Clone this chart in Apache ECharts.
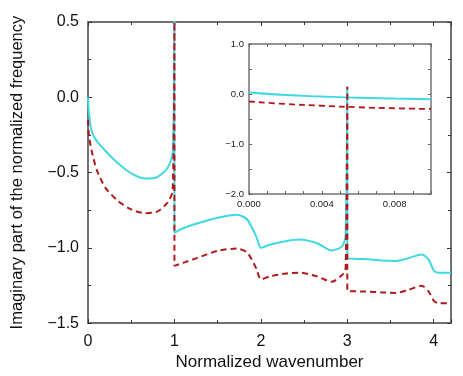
<!DOCTYPE html>
<html>
<head>
<meta charset="utf-8">
<script src="https://cdn.jsdelivr.net/npm/echarts@6/dist/echarts.min.js"></script>
<style>
html, body { margin: 0; padding: 0; background: #fff; }
#chart { width: 463px; height: 376px; }
</style>
</head>
<body>
<div id="chart"></div>
<script>
// 主图数据: 横坐标 (两条曲线共用), 含 x=1 和 x=3 处的竖直尖峰
var waveX = [0, 0.01, 0.04, 0.1, 0.2, 0.35, 0.5, 0.66, 0.8, 0.92, 0.98, 1.0, 1.0,
    1.1, 1.25, 1.5, 1.72, 1.84, 1.95, 2.0, 2.1, 2.3, 2.45, 2.65, 2.82, 2.94, 2.98, 3.0, 3.0,
    3.2, 3.4, 3.55, 3.7, 3.86, 3.94, 4.0, 4.05, 4.2];
// 青色实线
var cyanY = [0.0, -0.1, -0.22, -0.29, -0.355, -0.44, -0.505, -0.54, -0.53, -0.47, -0.37, 0.6, -0.9,
    -0.87, -0.84, -0.8, -0.78, -0.81, -0.93, -1.0, -0.98, -0.955, -0.945, -0.97, -1.018, -0.99, -0.92, 0.07, -1.07,
    -1.075, -1.085, -1.088, -1.07, -1.044, -1.077, -1.15, -1.165, -1.165];
// 红色虚线
var redY = [-0.15, -0.25, -0.35, -0.48, -0.6, -0.69, -0.745, -0.77, -0.76, -0.7, -0.62, 0.6, -1.12,
    -1.1, -1.07, -1.02, -1.005, -1.03, -1.14, -1.21, -1.19, -1.17, -1.165, -1.19, -1.226, -1.18, -1.15, 0.07, -1.285,
    -1.29, -1.296, -1.3, -1.28, -1.252, -1.29, -1.35, -1.368, -1.368];

// 小图数据
var insetX = [0, 0.002, 0.004, 0.006, 0.008, 0.01];
var insetCyanY = [0.03, -0.02, -0.05, -0.075, -0.09, -0.105];
var insetRedY = [-0.15, -0.2, -0.235, -0.265, -0.285, -0.3];

// 刻度
var mainXTicks = [0, 1, 2, 3, 4];
var mainYTicks = [-1.5, -1.0, -0.5, 0.0, 0.5];
var insetXLabels = [0, 0.004, 0.008];
var insetYLabels = [-2, -1, 0, 1];

function pairs(xs, ys) {
    var out = [];
    for (var i = 0; i < xs.length; i++) out.push([xs[i], ys[i]]);
    return out;
}
function minus(s) { return s.replace('-', '\u2212'); }
function near(v, list, eps) {
    for (var i = 0; i < list.length; i++) if (Math.abs(v - list[i]) < eps) return true;
    return false;
}

var CYAN = '#3fd9e2';
var RED = '#b3181c';
var AXIS = '#727272';
var FONT = 'Liberation Sans';

var myChart = echarts.init(document.getElementById('chart'));

var tickStyle = { show: true, inside: true, length: 4, lineStyle: { color: '#333', width: 1 } };
var minorStyle = { show: true, splitNumber: 2, length: 3, lineStyle: { color: '#333', width: 1 } };
var lineMain = { show: true, onZero: false, lineStyle: { color: AXIS, width: 2 } };
var lineInset = { show: true, onZero: false, lineStyle: { color: AXIS, width: 1.5 } };
var smallTick = { show: true, inside: true, length: 3, lineStyle: { color: '#666', width: 1 } };

var option = {
    animation: false,
    backgroundColor: '#fff',
    grid: [
        { left: 88, top: 22, right: 12, bottom: 50 },
        { left: 249, top: 44, width: 182, height: 150, show: true, backgroundColor: '#fff', borderWidth: 0 }
    ],
    xAxis: [
        {
            gridIndex: 0, type: 'value', position: 'bottom', min: 0, max: 4.2, interval: 1,
            name: 'Normalized wavenumber', nameLocation: 'middle', nameGap: 30,
            nameTextStyle: { fontFamily: FONT, fontSize: 17, color: '#111' },
            axisLine: lineMain, axisTick: tickStyle, minorTick: minorStyle,
            splitLine: { show: false },
            axisLabel: {
                fontFamily: FONT, fontSize: 16, color: '#111', margin: 10, showMaxLabel: false,
                formatter: function (v) { return near(v, mainXTicks, 1e-6) ? String(v) : ''; }
            }
        },
        {
            gridIndex: 0, type: 'value', position: 'top', min: 0, max: 4.2, interval: 1,
            axisLine: lineMain, axisTick: tickStyle, minorTick: minorStyle,
            splitLine: { show: false }, axisLabel: { show: false }
        },
        {
            gridIndex: 1, type: 'value', position: 'bottom', min: 0, max: 0.01, interval: 0.001,
            axisLine: lineInset, axisTick: smallTick, splitLine: { show: false },
            axisLabel: {
                fontFamily: FONT, fontSize: 9.5, color: '#222', margin: 5,
                formatter: function (v) { return near(v, insetXLabels, 1e-7) ? v.toFixed(3) : ''; }
            }
        },
        {
            gridIndex: 1, type: 'value', position: 'top', min: 0, max: 0.01, interval: 0.001,
            axisLine: lineInset, axisTick: smallTick, splitLine: { show: false },
            axisLabel: { show: false }
        }
    ],
    yAxis: [
        {
            gridIndex: 0, type: 'value', position: 'left', min: -1.5, max: 0.5, interval: 0.5,
            name: 'Imaginary part of the normalized frequency', nameLocation: 'middle', nameGap: 62,
            nameTextStyle: { fontFamily: FONT, fontSize: 16.5, color: '#111' },
            axisLine: lineMain, axisTick: tickStyle, minorTick: minorStyle,
            splitLine: { show: false },
            axisLabel: {
                fontFamily: FONT, fontSize: 16, color: '#111', margin: 9,
                formatter: function (v) { return near(v, mainYTicks, 1e-6) ? minus(v.toFixed(1)) : ''; }
            }
        },
        {
            gridIndex: 0, type: 'value', position: 'right', min: -1.5, max: 0.5, interval: 0.5,
            axisLine: lineMain, axisTick: tickStyle, minorTick: minorStyle,
            splitLine: { show: false }, axisLabel: { show: false }
        },
        {
            gridIndex: 1, type: 'value', position: 'left', min: -2, max: 1, interval: 0.5,
            axisLine: lineInset, axisTick: smallTick, splitLine: { show: false },
            axisLabel: {
                fontFamily: FONT, fontSize: 9.5, color: '#222', margin: 5,
                formatter: function (v) { return near(v, insetYLabels, 1e-6) ? minus(v.toFixed(1)) : ''; }
            }
        },
        {
            gridIndex: 1, type: 'value', position: 'right', min: -2, max: 1, interval: 0.5,
            axisLine: lineInset, axisTick: smallTick, splitLine: { show: false },
            axisLabel: { show: false }
        }
    ],
    series: [
        {
            name: 'inset cyan', type: 'line', xAxisIndex: 2, yAxisIndex: 2,
            data: pairs(insetX, insetCyanY), showSymbol: false, smooth: true,
            lineStyle: { color: CYAN, width: 1.8 }
        },
        {
            name: 'inset red', type: 'line', xAxisIndex: 2, yAxisIndex: 2,
            data: pairs(insetX, insetRedY), showSymbol: false, smooth: true,
            lineStyle: { color: RED, width: 1.8, type: [6, 4] }
        },
        {
            name: 'cyan', type: 'line', xAxisIndex: 0, yAxisIndex: 0, z: 5,
            data: pairs(waveX, cyanY), showSymbol: false, smooth: 0.25,
            lineStyle: { color: CYAN, width: 2 }
        },
        {
            name: 'red', type: 'line', xAxisIndex: 0, yAxisIndex: 0, z: 6,
            data: pairs(waveX, redY), showSymbol: false, smooth: 0.25,
            lineStyle: { color: RED, width: 2, type: [6, 4] }
        }
    ]
};

myChart.setOption(option);
window.addEventListener('resize', function () { myChart.resize(); });
</script>
</body>
</html>
